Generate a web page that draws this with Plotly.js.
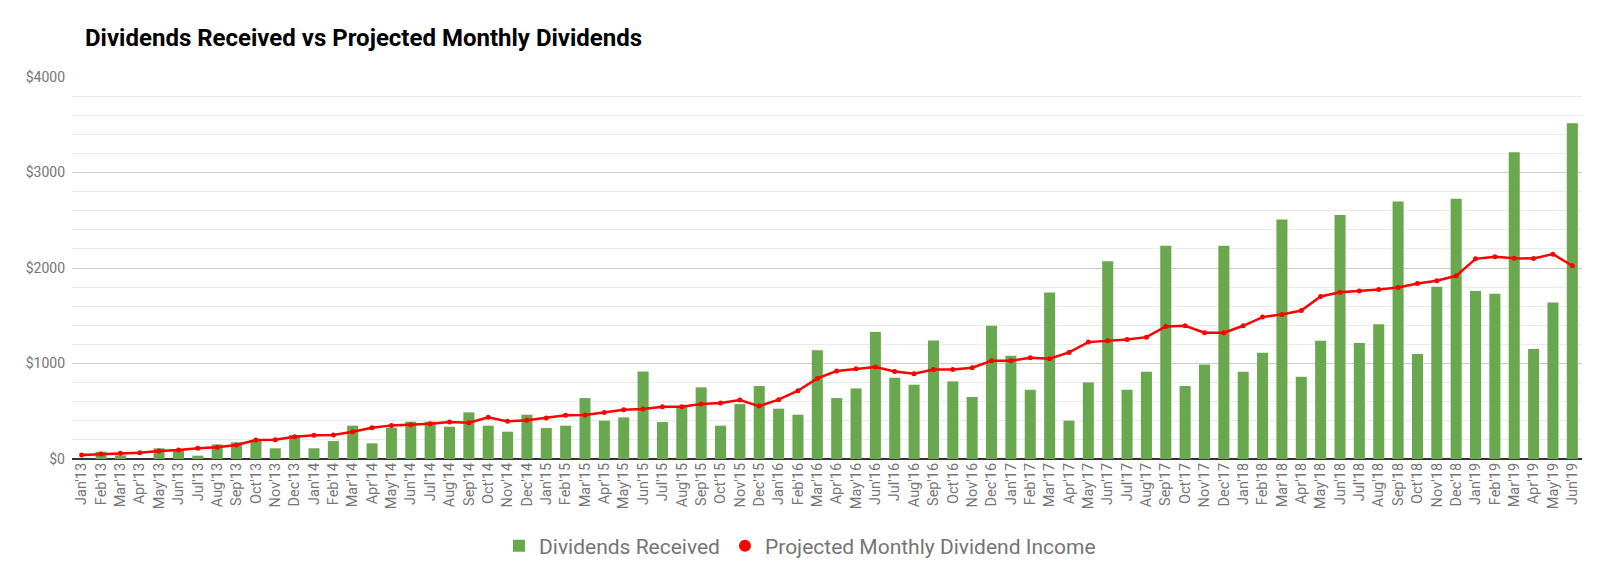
<!DOCTYPE html>
<html>
<head>
<meta charset="utf-8">
<script src="https://cdn.plot.ly/plotly-3.0.1.min.js"></script>
<style>html,body{margin:0;padding:0;background:#fff;}#chart{width:1600px;height:576px;}</style>
</head>
<body>
<div id="chart"></div>
<script>
const months = ["Jan'13","Feb'13","Mar'13","Apr'13","May'13","Jun'13","Jul'13","Aug'13","Sep'13","Oct'13","Nov'13","Dec'13",
"Jan'14","Feb'14","Mar'14","Apr'14","May'14","Jun'14","Jul'14","Aug'14","Sep'14","Oct'14","Nov'14","Dec'14",
"Jan'15","Feb'15","Mar'15","Apr'15","May'15","Jun'15","Jul'15","Aug'15","Sep'15","Oct'15","Nov'15","Dec'15",
"Jan'16","Feb'16","Mar'16","Apr'16","May'16","Jun'16","Jul'16","Aug'16","Sep'16","Oct'16","Nov'16","Dec'16",
"Jan'17","Feb'17","Mar'17","Apr'17","May'17","Jun'17","Jul'17","Aug'17","Sep'17","Oct'17","Nov'17","Dec'17",
"Jan'18","Feb'18","Mar'18","Apr'18","May'18","Jun'18","Jul'18","Aug'18","Sep'18","Oct'18","Nov'18","Dec'18",
"Jan'19","Feb'19","Mar'19","Apr'19","May'19","Jun'19"];

const dividendsReceived = [0,76,38,0,112,101,35,153,174,199,112,251,
112,188,349,164,328,391,391,338,488,349,286,464,
324,349,638,401,436,917,387,554,750,349,575,764,
527,464,1140,638,739,1329,851,778,1241,813,649,1395,
1081,725,1744,401,802,2071,725,914,2232,764,990,2232,
914,1112,2507,861,1238,2556,1214,1412,2696,1099,1803,2724,
1758,1730,3212,1151,1639,3515];

const projectedIncome = [42,52,59,66,84,94,112,122,146,199,202,234,
248,251,286,328,352,359,370,387,380,436,394,405,
429,457,460,488,516,523,548,548,575,586,617,554,
621,715,844,921,945,963,917,893,938,938,956,1029,
1029,1060,1050,1116,1224,1238,1252,1276,1388,1395,1322,1322,
1395,1486,1514,1555,1702,1747,1758,1775,1796,1838,1866,1918,
2096,2117,2103,2099,2145,2023];

const seriesNames = ["Dividends Received","Projected Monthly Dividend Income"];
const chartTitle = "Dividends Received vs Projected Monthly Dividends";

const green = "#6aa84f", red = "#ff0000";

const traces = [
  {type:"bar", x:months, y:dividendsReceived, name:seriesNames[0], marker:{color:green}, hoverinfo:"x+y"},
  {type:"scatter", mode:"lines+markers", x:months, y:projectedIncome, name:seriesNames[1], showlegend:false,
   line:{color:red, width:2.5}, marker:{color:red, size:5}},
  {type:"scatter", mode:"markers", x:[months[0]], y:[null], name:seriesNames[1],
   marker:{color:red, size:16, symbol:"circle"}, hoverinfo:"skip"}
];

const layout = {
  width:1600, height:576,
  paper_bgcolor:"#fff", plot_bgcolor:"#fff",
  margin:{l:72, r:18, t:77, b:117, autoexpand:false},
  font:{family:"Roboto, sans-serif", color:"#757575"},
  title:{text:chartTitle, x:85/1600, xref:"container", xanchor:"left",
         y:1-38/576, yref:"container", yanchor:"middle",
         font:{family:"Roboto, sans-serif", size:24, weight:700, color:"#000"}},
  bargap:0.43,
  showlegend:true,
  legend:{orientation:"h", x:0.5, xref:"container", xanchor:"center",
          y:1-546/576, yref:"container", yanchor:"middle",
          font:{size:21, color:"#757575"}, itemsizing:"constant", traceorder:"normal"},
  xaxis:{type:"category", range:[-0.5, months.length-0.5], autorange:false, tickangle:-90,
         tickfont:{size:14.5, color:"#757575"},
         showgrid:false, showline:false, ticks:"", automargin:false},
  yaxis:{range:[0,4000], dtick:1000, tickprefix:"$", tickformat:"d",
         tickfont:{size:14, color:"#757575"}, gridcolor:"#cccccc", gridwidth:1,
         zeroline:true, zerolinecolor:"#333333", zerolinewidth:1.5,
         minor:{dtick:200, showgrid:true, gridcolor:"#ebebeb", gridwidth:1},
         ticklabelstandoff:6, automargin:false, fixedrange:true}
};

Plotly.newPlot("chart", traces, layout, {displayModeBar:false, staticPlot:true});
</script>
</body>
</html>
